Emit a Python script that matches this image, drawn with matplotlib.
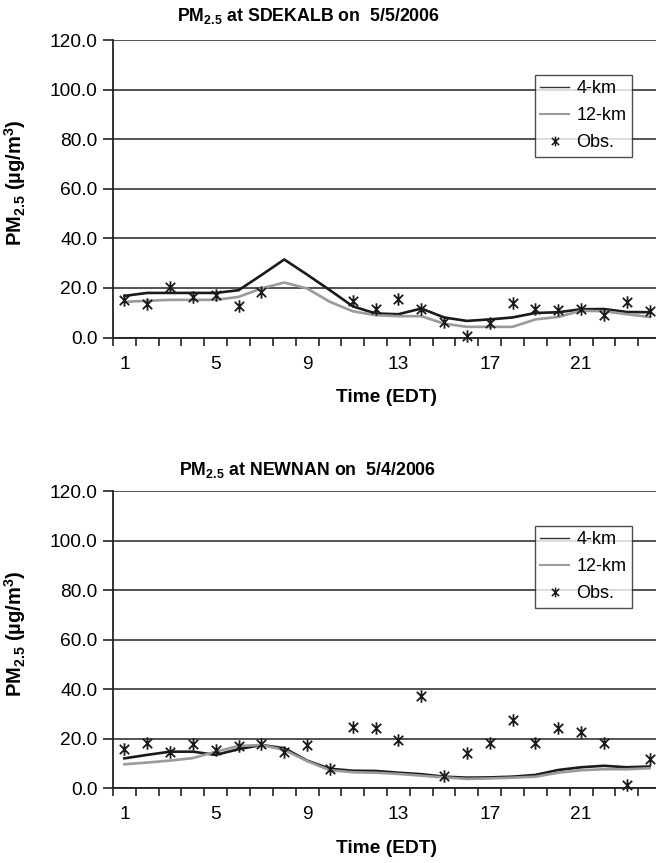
import matplotlib
matplotlib.use('Agg')
import matplotlib.pyplot as plt
from matplotlib.path import Path
from matplotlib.lines import Line2D
import numpy as np

plt.rcParams['font.family'] = ['Liberation Sans', 'DejaVu Sans']
plt.rcParams['mathtext.fontset'] = 'custom'
plt.rcParams['mathtext.rm'] = 'Liberation Sans'
plt.rcParams['mathtext.bf'] = 'Liberation Sans:bold'
plt.rcParams['mathtext.it'] = 'Liberation Sans:italic'

hours = list(range(1, 25))
xtick_hours = [1, 5, 9, 13, 17, 21]
yticks = [0, 20, 40, 60, 80, 100, 120]

nan = np.nan
sdekalb_4km = [16.8, 18.0, 18.0, 18.0, 18.0, 19.1, 25.2, 31.5, 25.4, 19.1, 12.6, 9.7,
               9.4, 11.7, 8.1, 6.7, 7.3, 8.1, 9.9, 10.2, 11.4, 11.5, 10.3, 10.2]
sdekalb_12km = [14.4, 14.8, 15.2, 15.2, 15.2, 16.4, 19.8, 22.2, 19.8, 14.4, 10.6, 9.0,
                8.6, 8.6, 5.6, 4.3, 4.3, 4.3, 7.3, 8.3, 10.8, 10.6, 9.4, 8.3]
sdekalb_obs = [15.1, 13.7, 20.2, 16.2, 17.1, 12.6, 18.4, nan, nan, nan, 14.8, 11.7,
               15.7, 11.7, 6.3, 0.5, 5.9, 14.1, 11.7, 11.0, 11.5, 9.0, 14.4, 10.6]

newnan_4km = [12.1, 13.5, 14.8, 14.8, 13.5, 15.8, 17.5, 16.2, 11.2, 7.9, 7.1, 7.0,
              6.3, 5.7, 4.7, 4.3, 4.4, 4.7, 5.4, 7.4, 8.5, 9.1, 8.5, 8.8]
newnan_12km = [9.7, 10.4, 11.2, 12.2, 14.8, 17.1, 17.5, 15.5, 11.0, 7.3, 6.5, 6.3,
               5.8, 5.1, 4.4, 3.8, 4.0, 4.3, 4.7, 6.3, 7.3, 7.7, 7.7, 8.1]
newnan_obs = [15.9, 18.2, 14.8, 17.9, 15.5, 17.1, 17.9, 14.8, 17.5, 8.0, 24.6, 24.2,
              19.5, 37.3, 5.0, 14.1, 18.4, 27.6, 18.4, 24.2, 22.6, 18.4, 1.3, 11.8]

titles = [r'$\mathbf{PM_{2.5}}$ at SDEKALB on  5/5/2006',
          r'$\mathbf{PM_{2.5}}$ at NEWNAN on  5/4/2006']
series_labels = ['4-km', '12-km', 'Obs.']

star = Path([(0, -1), (0, 1), (-0.75, -0.75), (0.75, 0.75), (-0.75, 0.75), (0.75, -0.75)],
            [Path.MOVETO, Path.LINETO, Path.MOVETO, Path.LINETO, Path.MOVETO, Path.LINETO])

W, H = 656, 863
fig = plt.figure(figsize=(W / 100, H / 100), dpi=100)

FS = 13.8
GRAY = '#9a9a9a'

panels = [
    (sdekalb_4km, sdekalb_12km, sdekalb_obs, titles[0], 337.5, 40.3, 16),
    (newnan_4km, newnan_12km, newnan_obs, titles[1], 788.3, 491.3, 470),
]

left_px, right_px = 113, 661
for m4, m12, obs, title, y0px, y1px, title_y in panels:
    ax = fig.add_axes([left_px / W, 1 - y0px / H, (right_px - left_px) / W, (y0px - y1px) / H])
    ax.set_xlim(0.5, 24.5)
    ax.set_ylim(0, 120)
    ax.set_yticks(yticks)
    ax.set_yticklabels([f'{v:.1f}' for v in yticks], fontsize=FS)
    ax.yaxis.grid(True, color='#444444', linewidth=1.3)
    ax.set_axisbelow(True)
    for s in ['top', 'right']:
        ax.spines[s].set_visible(False)
    for s in ['left', 'bottom']:
        ax.spines[s].set_linewidth(1.3)
        ax.spines[s].set_color('#222222')
    ax.set_xticks(np.arange(0.5, 25, 1))
    ax.set_xticklabels([])
    ax.set_xticks(xtick_hours, minor=True)
    ax.set_xticklabels([str(h) for h in xtick_hours], minor=True, fontsize=FS)
    ax.tick_params(axis='x', which='major', length=6, width=1.2, direction='out', color='#222222')
    ax.tick_params(axis='x', which='minor', length=0, pad=13)
    ax.tick_params(axis='y', length=7, width=1.2, direction='out', color='#222222', pad=4)

    ax.plot(hours, m4, color='#1a1a1a', lw=1.9, zorder=3)
    ax.plot(hours, m12, color=GRAY, lw=1.9, zorder=3)
    ax.plot(hours, obs, linestyle='none', marker=star, markersize=9, markeredgewidth=1.3,
            color='#1a1a1a', zorder=4, clip_on=False)

    ax.set_xlabel('Time (EDT)', fontsize=FS, fontweight='bold', labelpad=12)
    ax.set_ylabel(r'$\mathbf{PM_{2.5}}$ (µg/m$\mathbf{^3}$)', fontsize=14.5, fontweight='bold')
    ax.yaxis.set_label_coords(-(113 - 28) / 548, 0.52)

    fig.text(308 / W, 1 - title_y / H, title, ha='center', va='center',
             fontsize=12.8, fontweight='bold')

    handles = [Line2D([], [], color='#333333', lw=1.0),
               Line2D([], [], color=GRAY, lw=1.5),
               Line2D([], [], linestyle='none', marker=star, markersize=7,
                      markeredgewidth=1.1, color='#1a1a1a')]
    leg = ax.legend(handles, series_labels, loc='upper left', bbox_to_anchor=(0.770, 0.883),
                    borderaxespad=0, frameon=True, fancybox=False, fontsize=13,
                    handlelength=1.6, handletextpad=0.4, labelspacing=0.55, borderpad=0.3)
    leg.get_frame().set_edgecolor('#222222')
    leg.get_frame().set_linewidth(1.0)

fig.savefig('out.png', dpi=100)
